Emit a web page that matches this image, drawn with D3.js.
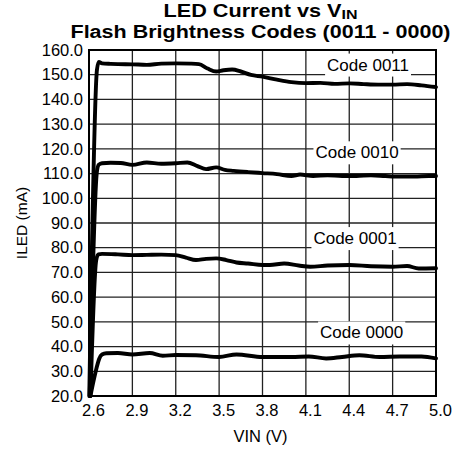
<!DOCTYPE html>
<html><head><meta charset="utf-8">
<script src="https://cdn.jsdelivr.net/npm/d3@7"></script>
<style>
body{margin:0;background:#fff}
svg{display:block}
text{font-family:"Liberation Sans",Arial,Helvetica,sans-serif;fill:#000}
</style>
</head><body>
<svg id="chart" width="456" height="449"></svg>
<script>
// ---- data ----
const xTicks = [2.6, 2.9, 3.2, 3.5, 3.8, 4.1, 4.4, 4.7, 5.0];
const yTicks = [20, 30, 40, 50, 60, 70, 80, 90, 100, 110, 120, 130, 140, 150, 160];
const seriesNames = ["Code 0011", "Code 0010", "Code 0001", "Code 0000"];

const vin0011 = [2.602, 2.655, 2.668, 2.69, 2.75, 2.8, 2.9, 3.0, 3.1, 3.2, 3.3, 3.36, 3.42, 3.48, 3.53, 3.59, 3.65, 3.72, 3.8, 3.9, 4.0, 4.1, 4.2, 4.3, 4.4, 4.5, 4.6, 4.7, 4.8, 4.9, 5.0];
const iled0011 = [20, 152, 155.2, 154.6, 154.4, 154.3, 154.2, 154.0, 154.5, 154.6, 154.5, 154.3, 152.5, 151.3, 151.8, 152.1, 151.3, 149.9, 149.2, 148.0, 147.0, 146.6, 146.7, 146.3, 146.5, 146.2, 146.0, 146.0, 146.2, 145.7, 145.0];

const vin0010 = [2.605, 2.655, 2.668, 2.69, 2.75, 2.82, 2.9, 3.0, 3.1, 3.2, 3.28, 3.35, 3.41, 3.48, 3.54, 3.6, 3.7, 3.8, 3.9, 4.0, 4.06, 4.15, 4.25, 4.35, 4.45, 4.55, 4.65, 4.75, 4.85, 4.95, 5.0];
const iled0010 = [20, 111, 113.6, 114.2, 114.4, 114.3, 113.5, 114.5, 114.0, 114.2, 114.5, 113.0, 111.8, 112.5, 111.5, 111.1, 110.6, 110.2, 109.8, 109.0, 109.6, 109.0, 109.3, 109.0, 109.0, 109.3, 109.0, 108.8, 108.8, 109.0, 109.0];

const vin0001 = [2.61, 2.65, 2.665, 2.69, 2.8, 2.9, 3.0, 3.1, 3.2, 3.27, 3.34, 3.41, 3.48, 3.55, 3.62, 3.7, 3.8, 3.85, 3.95, 4.05, 4.13, 4.25, 4.4, 4.55, 4.7, 4.8, 4.88, 5.0];
const iled0001 = [20, 75, 77.3, 77.5, 77.3, 77.0, 77.1, 77.2, 77.0, 76.0, 75.0, 75.5, 75.7, 75.0, 74.0, 73.6, 73.0, 73.0, 73.6, 72.8, 72.3, 72.8, 73.0, 72.5, 72.3, 72.6, 71.6, 71.7];

const vin0000 = [2.61, 2.635, 2.653, 2.67, 2.69, 2.72, 2.8, 2.9, 3.02, 3.11, 3.2, 3.34, 3.5, 3.62, 3.8, 4.0, 4.12, 4.24, 4.35, 4.47, 4.61, 4.75, 4.9, 5.0];
const iled0000 = [20, 27, 31.5, 35, 36.8, 37.3, 37.4, 36.8, 37.4, 36.3, 36.6, 36.5, 35.8, 36.8, 35.8, 35.8, 36.0, 35.2, 35.8, 36.5, 35.8, 36.0, 36.0, 35.2];

// label anchors (data units)
const labelVin = [4.53, 4.454, 4.44, 4.486];
const labelIled = [153.9, 118.4, 83.7, 45.5];

// ---- layout ----
const W = 456, H = 449;
const margin = {top: 50, right: 20, bottom: 53, left: 89};
const svg = d3.select("#chart");

const x = d3.scaleLinear().domain([2.6, 5.0]).range([margin.left, W - margin.right]);
const y = d3.scaleLinear().domain([20, 160]).range([H - margin.bottom, margin.top]);

const series = [
  {name: seriesNames[0], vin: vin0011, iled: iled0011},
  {name: seriesNames[1], vin: vin0010, iled: iled0010},
  {name: seriesNames[2], vin: vin0001, iled: iled0001},
  {name: seriesNames[3], vin: vin0000, iled: iled0000}
];

// grid
svg.append("g").selectAll("line").data(xTicks.slice(1, -1)).join("line")
  .attr("x1", d => x(d)).attr("x2", d => x(d))
  .attr("y1", y(20)).attr("y2", y(160))
  .attr("stroke", "#222").attr("stroke-width", 1.3);
svg.append("g").selectAll("line").data(yTicks.slice(1, -1)).join("line")
  .attr("y1", d => y(d)).attr("y2", d => y(d))
  .attr("x1", x(2.6)).attr("x2", x(5.0))
  .attr("stroke", "#222").attr("stroke-width", 1.3);

// axes (labels only)
const xAxis = d3.axisBottom(x).tickValues(xTicks).tickFormat(d3.format(".1f")).tickSize(0).tickPadding(8);
const gx = svg.append("g").attr("transform", `translate(0,${H - margin.bottom})`).call(xAxis);
gx.select(".domain").remove();
gx.selectAll("text").attr("font-size", 16.5).attr("dx", 4).attr("font-family", '"Liberation Sans",Arial,sans-serif').attr("fill", "#000");

const yAxis = d3.axisLeft(y).tickValues(yTicks).tickFormat(d3.format(".1f")).tickSize(0).tickPadding(6);
const gy = svg.append("g").attr("transform", `translate(${margin.left},0)`).call(yAxis);
gy.select(".domain").remove();
gy.selectAll("text").attr("font-size", 16.5).attr("font-family", '"Liberation Sans",Arial,sans-serif').attr("fill", "#000");

// frame
svg.append("rect")
  .attr("x", x(2.6)).attr("y", y(160))
  .attr("width", x(5.0) - x(2.6)).attr("height", y(20) - y(160))
  .attr("fill", "none").attr("stroke", "#000").attr("stroke-width", 2);

// lines
const line = d3.line().x(d => x(d[0])).y(d => y(d[1])).curve(d3.curveMonotoneX);
svg.append("g").selectAll("path").data(series).join("path")
  .attr("d", s => line(s.vin.map((v, i) => [v, s.iled[i]])))
  .attr("fill", "none").attr("stroke", "#000").attr("stroke-width", 3.9)
  .attr("stroke-linejoin", "round").attr("stroke-linecap", "round");

// series labels with white boxes
series.forEach((s, i) => {
  const g = svg.append("g");
  const t = g.append("text")
    .attr("x", x(labelVin[i])).attr("y", y(labelIled[i]))
    .attr("text-anchor", "middle").attr("dominant-baseline", "central")
    .attr("font-size", 17).text(s.name);
  const bb = t.node().getBBox();
  g.insert("rect", "text")
    .attr("x", bb.x - 2).attr("y", bb.y + bb.height / 2 - 11.5)
    .attr("width", bb.width + 4).attr("height", 23)
    .attr("fill", "#fff");
});

// titles
const cx = 260.5;
const t1 = svg.append("text").attr("x", cx).attr("y", 17)
  .attr("text-anchor", "middle").attr("font-weight", "bold").attr("font-size", 18.5);
t1.append("tspan").attr("textLength", 178).attr("lengthAdjust", "spacingAndGlyphs").text("LED Current vs V");
t1.append("tspan").attr("font-size", 12).attr("dy", 2).attr("textLength", 16).attr("lengthAdjust", "spacingAndGlyphs").text("IN");
svg.append("text").attr("x", cx).attr("y", 37.5)
  .attr("text-anchor", "middle").attr("font-weight", "bold").attr("font-size", 18)
  .attr("textLength", 380).attr("lengthAdjust", "spacingAndGlyphs")
  .text("Flash Brightness Codes (0011 - 0000)");

svg.append("text").attr("x", cx).attr("y", 442)
  .attr("text-anchor", "middle").attr("font-size", 16.5).text("VIN (V)");
svg.append("text").attr("transform", `translate(27,${(y(20) + y(160)) / 2}) rotate(-90)`)
  .attr("text-anchor", "middle").attr("font-size", 15.5).text("ILED (mA)");
</script>
</body></html>
